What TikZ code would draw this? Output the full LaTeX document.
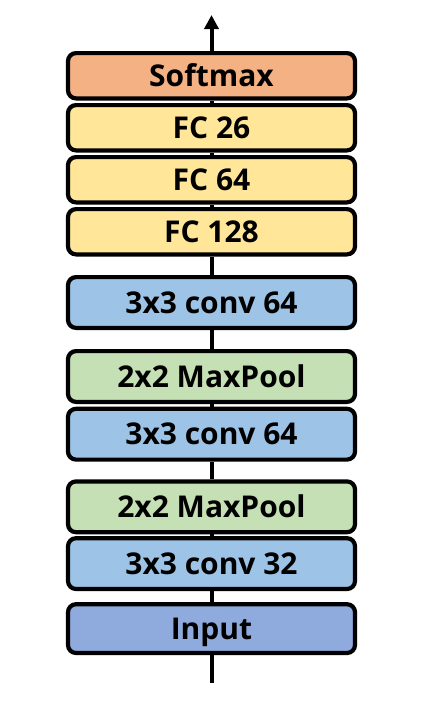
\documentclass[tikz,border=0pt]{standalone}
\usepackage{fontspec}
\setmainfont{Open Sans}
\usetikzlibrary{arrows.meta,positioning}

\definecolor{smcol}{HTML}{F4B183}
\definecolor{fccol}{HTML}{FFE699}
\definecolor{convcol}{HTML}{9DC3E6}
\definecolor{poolcol}{HTML}{C5E0B4}
\definecolor{incol}{HTML}{8FAADC}

\tikzset{
  layer/.style={draw, line width=4.2pt, rounded corners=8pt, minimum width=287pt,
    minimum height=45.3pt, inner sep=0pt, text height=21pt, text depth=0pt,
    font=\fontsize{30}{34}\selectfont\bfseries},
  tall/.style={layer, minimum height=50.8pt},
  link/.style={line width=4pt}
}

\begin{document}
\begin{tikzpicture}[x=1pt, y=-1pt]
  \useasboundingbox (0,0) rectangle (431,702);
  \node[layer, fill=smcol, anchor=north] (softmax) at (211.5,51) {Softmax};
  \node[layer, fill=fccol, below=2.5pt of softmax] (fc26) {FC 26};
  \node[layer, fill=fccol, below=2.5pt of fc26] (fc64) {FC 64};
  \node[layer, fill=fccol, below=2.5pt of fc64] (fc128) {FC 128};
  \node[tall, fill=convcol, below=18.5pt of fc128] (convc) {3x3 conv 64};
  \node[tall, fill=poolcol, below=19pt of convc] (poolb) {2x2 MaxPool};
  \node[tall, fill=convcol, below=2.7pt of poolb] (convb) {3x3 conv 64};
  \node[tall, fill=poolcol, below=17.6pt of convb] (poola) {2x2 MaxPool};
  \node[tall, fill=convcol, below=1.8pt of poola] (conva) {3x3 conv 32};
  \node[layer, minimum height=48.8pt, fill=incol, below=11pt of conva] (input) {Input};
  \coordinate (src) at (211.5,683);
  \coordinate (out) at (211.5,15);
  % connectors
  \draw[link] (src) -- (input);
  \draw[link] (input) -- (conva);
  \draw[link] (conva) -- (poola);
  \draw[link] (poola) -- (convb);
  \draw[link] (convb) -- (poolb);
  \draw[link] (poolb) -- (convc);
  \draw[link] (convc) -- (fc128);
  \draw[link] (fc128) -- (fc64);
  \draw[link] (fc64) -- (fc26);
  \draw[link] (fc26) -- (softmax);
  \draw[link, -{Triangle[length=14pt, width=14pt]}] (softmax) -- (out);
\end{tikzpicture}
\end{document}
